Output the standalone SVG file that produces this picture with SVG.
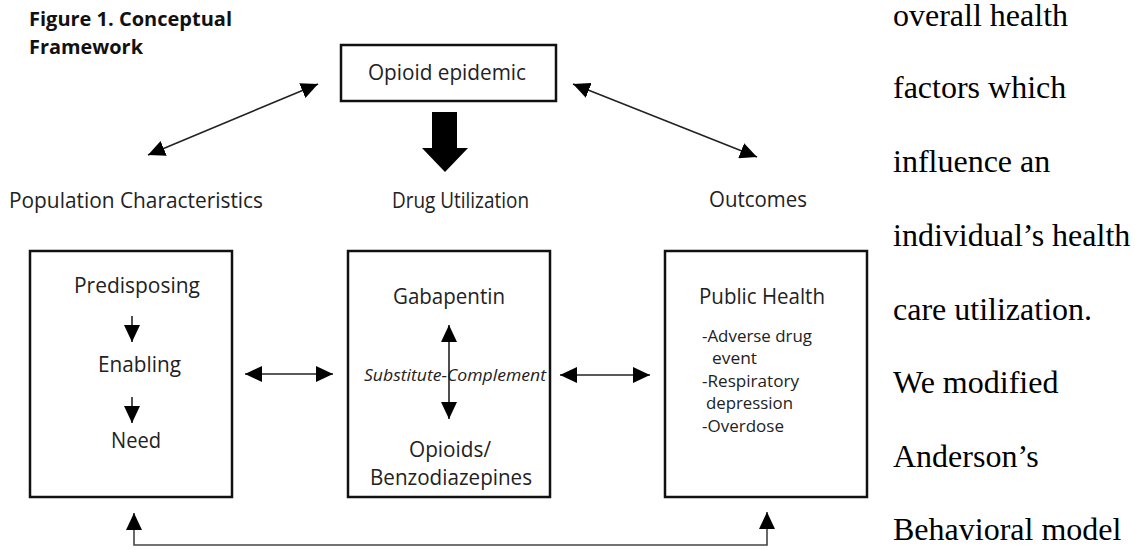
<svg xmlns="http://www.w3.org/2000/svg" width="1138" height="549" viewBox="0 0 1138 549">
<style>
.lbl{font-family:"Open Sans","Noto Sans","Liberation Sans",sans-serif;font-size:21px;fill:#222}
.sm{font-family:"Open Sans","Noto Sans","Liberation Sans",sans-serif;font-size:17px;fill:#222}
.it{font-family:"Open Sans","Noto Sans","Liberation Sans",sans-serif;font-size:16.5px;font-style:italic;fill:#222}
.ttl{font-family:"Open Sans","Noto Sans","Liberation Sans",sans-serif;font-size:20px;font-weight:bold;fill:#111}
.body{font-family:"Liberation Serif","Times New Roman",serif;font-size:32px;fill:#000}
.box{fill:#fff;stroke:#111;stroke-width:2.5}
.ln{fill:none;stroke:#222;stroke-width:1.6}
.dbl{marker-start:url(#ah);marker-end:url(#ah)}
.one{marker-end:url(#ah)}
</style>
<defs>
<marker id="ah" markerUnits="userSpaceOnUse" markerWidth="18" markerHeight="16" refX="17" refY="8" orient="auto-start-reverse" viewBox="0 0 18 16">
<path d="M0,0 L17,8 L0,16 z" fill="#000"/>
</marker>
</defs>
<rect width="1138" height="549" fill="#fff"/>

<g id="title">
<text class="ttl" x="29" y="26" textLength="203" lengthAdjust="spacingAndGlyphs">Figure 1. Conceptual</text>
<text class="ttl" x="29" y="54" textLength="114" lengthAdjust="spacingAndGlyphs">Framework</text>
</g>

<g id="opioid-epidemic">
<rect class="box" x="341" y="45" width="215" height="56"/>
<text class="lbl" x="368" y="80" textLength="158" lengthAdjust="spacingAndGlyphs">Opioid epidemic</text>
</g>

<g id="population-label">
<text class="lbl" x="9" y="208" textLength="254" lengthAdjust="spacingAndGlyphs">Population Characteristics</text>
</g>
<g id="drug-label">
<text class="lbl" x="392" y="208" textLength="137" lengthAdjust="spacingAndGlyphs">Drug Utilization</text>
</g>
<g id="outcomes-label">
<text class="lbl" x="709" y="207" textLength="98" lengthAdjust="spacingAndGlyphs">Outcomes</text>
</g>

<g id="population-box">
<rect class="box" x="30" y="251" width="202" height="246"/>
<text class="lbl" x="74" y="293" textLength="126" lengthAdjust="spacingAndGlyphs">Predisposing</text>
<text class="lbl" x="98" y="372" textLength="83" lengthAdjust="spacingAndGlyphs">Enabling</text>
<text class="lbl" x="111" y="448" textLength="50" lengthAdjust="spacingAndGlyphs">Need</text>
</g>

<g id="drug-box">
<rect class="box" x="348" y="251" width="202" height="246"/>
<text class="lbl" x="393" y="304" textLength="112" lengthAdjust="spacingAndGlyphs">Gabapentin</text>
<text class="lbl" x="409" y="457" textLength="82" lengthAdjust="spacingAndGlyphs">Opioids/</text>
<text class="lbl" x="370" y="485" textLength="162" lengthAdjust="spacingAndGlyphs">Benzodiazepines</text>
</g>

<g id="outcomes-box">
<rect class="box" x="665" y="251" width="202" height="246"/>
<text class="lbl" x="699" y="304" textLength="126" lengthAdjust="spacingAndGlyphs">Public Health</text>
<text class="sm" x="702" y="342" textLength="110" lengthAdjust="spacingAndGlyphs">-Adverse drug</text>
<text class="sm" x="712" y="364" textLength="45" lengthAdjust="spacingAndGlyphs">event</text>
<text class="sm" x="702" y="387" textLength="97" lengthAdjust="spacingAndGlyphs">-Respiratory</text>
<text class="sm" x="706" y="409" textLength="87" lengthAdjust="spacingAndGlyphs">depression</text>
<text class="sm" x="702" y="432" textLength="82" lengthAdjust="spacingAndGlyphs">-Overdose</text>
</g>

<g id="connectors">
<line class="ln dbl" x1="148" y1="155" x2="318" y2="84"/>
<line class="ln dbl" x1="573" y1="84" x2="757" y2="157"/>
<polygon points="432,112 457,112 457,148 468,148 445,172 422,148 432,148" fill="#000"/>
<line class="ln one" x1="132" y1="316" x2="132" y2="342"/>
<line class="ln one" x1="132" y1="397" x2="132" y2="423"/>
<line class="ln dbl" x1="449" y1="325" x2="449" y2="419"/>
<line class="ln dbl" x1="245" y1="374" x2="333" y2="374"/>
<line class="ln dbl" x1="560" y1="375" x2="650" y2="375"/>
<polyline class="ln dbl" style="stroke:#444" points="134,513 134,545 767,545 767,512"/>
</g>

<g id="substitute-label">
<text class="it" x="364" y="381" textLength="182" lengthAdjust="spacingAndGlyphs">Substitute-Complement</text>
</g>

<g id="body-text">
<text class="body" x="893" y="26">overall health</text>
<text class="body" x="893" y="98">factors which</text>
<text class="body" x="893" y="172">influence an</text>
<text class="body" x="893" y="246">individual’s health</text>
<text class="body" x="893" y="320">care utilization.</text>
<text class="body" x="893" y="393">We modified</text>
<text class="body" x="893" y="467">Anderson’s</text>
<text class="body" x="893" y="540">Behavioral model</text>
</g>
</svg>
